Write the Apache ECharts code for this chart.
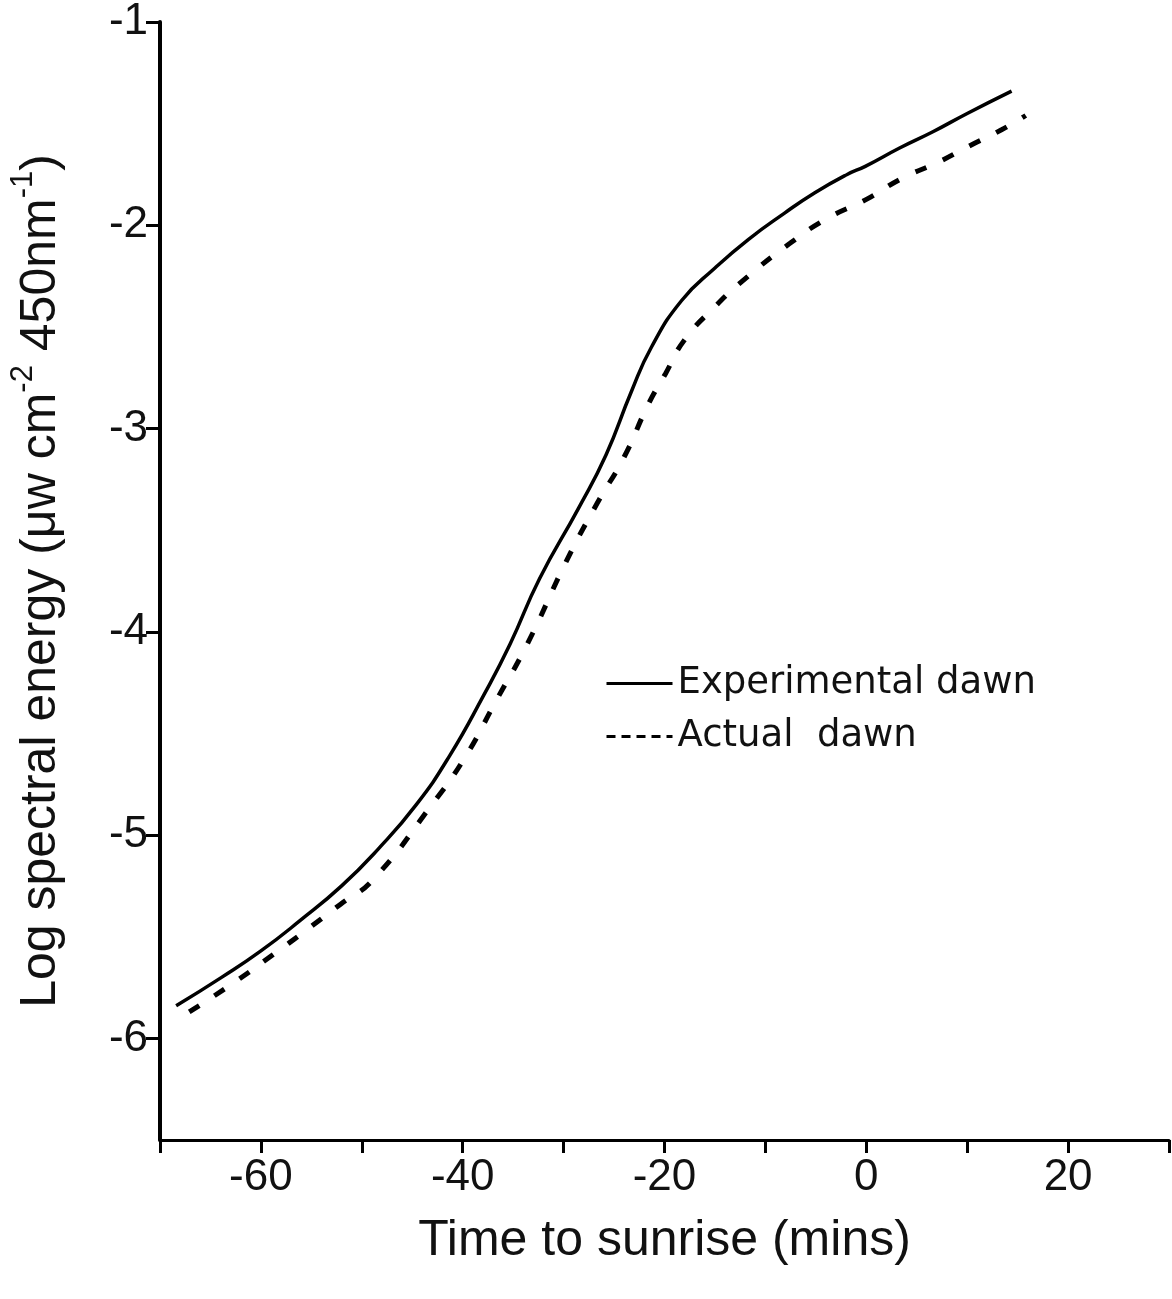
<!DOCTYPE html>
<html>
<head>
<meta charset="utf-8">
<script src="https://cdn.jsdelivr.net/npm/echarts@6/dist/echarts.min.js"></script>
<style>html,body{margin:0;padding:0;background:#fff;}#c{width:1172px;height:1299px;}</style>
</head>
<body>
<div id="c"></div>
<script>
// Time to sunrise (mins) and log spectral energy
const expTime = [-68.4,-63.9,-60.0,-56.1,-52.0,-48.4,-44.6,-41.3,-37.9,-35.3,-32.4,-28.5,-25.8,-23.3,-21.3,-18.3,-15.0,-11.7,-8.1,-5.1,-1.9,-0.1,3.3,6.6,10.0,14.4];
const expLog  = [-5.84,-5.70,-5.57,-5.42,-5.25,-5.07,-4.85,-4.61,-4.31,-4.06,-3.74,-3.39,-3.13,-2.82,-2.60,-2.37,-2.21,-2.07,-1.94,-1.84,-1.75,-1.71,-1.62,-1.54,-1.45,-1.34];
const actTime = [-67.1,-62.5,-58.3,-56.1,-52.1,-48.9,-43.2,-39.8,-36.7,-33.6,-29.7,-26.7,-24.0,-21.6,-19.9,-18.1,-15.0,-11.7,-7.6,-4.0,0.1,3.5,7.1,10.2,13.4,15.8];
const actLog  = [-5.87,-5.72,-5.57,-5.49,-5.34,-5.22,-4.86,-4.62,-4.34,-4.06,-3.65,-3.37,-3.14,-2.88,-2.73,-2.57,-2.40,-2.25,-2.09,-1.97,-1.87,-1.77,-1.69,-1.61,-1.53,-1.46];
const xTickLabels = {"-60":"-60","-40":"-40","-20":"-20","0":"0","20":"20"};
const yTickLabels = {"-1":"-1","-2":"-2","-3":"-3","-4":"-4","-5":"-5","-6":"-6"};
const seriesNames = ["Experimental dawn","Actual  dawn"];

const pair = (xs, ys) => xs.map((x, i) => [x, ys[i]]);
const chart = echarts.init(document.getElementById('c'));
chart.setOption({
  backgroundColor: '#fff',
  animation: false,
  grid: { left: 160, right: 3, top: 22, bottom: 159 },
  legend: {
    left: 600, top: 660, orient: 'vertical', itemGap: 16,
    itemWidth: 66, itemHeight: 14,
    itemStyle: { color: 'rgba(0,0,0,0)', borderWidth: 0, opacity: 0 },
    textStyle: { fontFamily: 'DejaVu Sans', fontSize: 37, color: '#111' },
    data: [
      { name: seriesNames[0], lineStyle: { color: '#000', width: 3, type: 'solid' } },
      { name: seriesNames[1], lineStyle: { color: '#000', width: 3, type: [9, 6] } }
    ]
  },
  xAxis: {
    type: 'value', min: -70, max: 30, interval: 10,
    name: 'Time to sunrise (mins)', nameLocation: 'middle', nameGap: 76,
    nameTextStyle: { fontFamily: 'Liberation Sans', fontSize: 50, color: '#111' },
    axisLine: { onZero: false, lineStyle: { color: '#000', width: 3 } },
    axisTick: { inside: false, length: 13, lineStyle: { color: '#000', width: 3 } },
    axisLabel: { formatter: v => xTickLabels[String(v)] || '', fontFamily: 'Liberation Sans', fontSize: 44, color: '#111', margin: 16 },
    splitLine: { show: false }
  },
  yAxis: {
    type: 'value', min: -6.5, max: -1, interval: 0.5,
    name: '{a|Log spectral energy (\u03bcw cm}{s|-2}{a| 450nm}{s|-1}{a|)}',
    nameLocation: 'middle', nameGap: 94, nameRotate: 90,
    nameTextStyle: {
      rich: {
        a: { fontFamily: 'Liberation Sans', fontSize: 50, color: '#111', lineHeight: 58, verticalAlign: 'bottom' },
        s: { fontFamily: 'Liberation Sans', fontSize: 31, color: '#111', lineHeight: 58, verticalAlign: 'top' }
      }
    },
    axisLine: { show: true, onZero: false, lineStyle: { color: '#000', width: 4 } },
    axisTick: { show: true, length: 14, lineStyle: { color: '#000', width: 3 },
      customValues: [-1,-2,-3,-4,-5,-6] },
    axisLabel: { formatter: v => yTickLabels[String(v)] || '', fontFamily: 'Liberation Sans', fontSize: 44, color: '#111', margin: 12,
      customValues: [-1,-2,-3,-4,-5,-6] },
    splitLine: { show: false }
  },
  series: [
    { name: seriesNames[0], type: 'line', data: pair(expTime, expLog), smooth: true, symbol: 'none',
      itemStyle: { color: '#000' },
      lineStyle: { color: '#000', width: 3.5 } },
    { name: seriesNames[1], type: 'line', data: pair(actTime, actLog), smooth: true, symbol: 'none',
      itemStyle: { color: '#000' },
      lineStyle: { color: '#000', width: 5, type: [12, 18] } }
  ]
});
</script>
</body>
</html>
